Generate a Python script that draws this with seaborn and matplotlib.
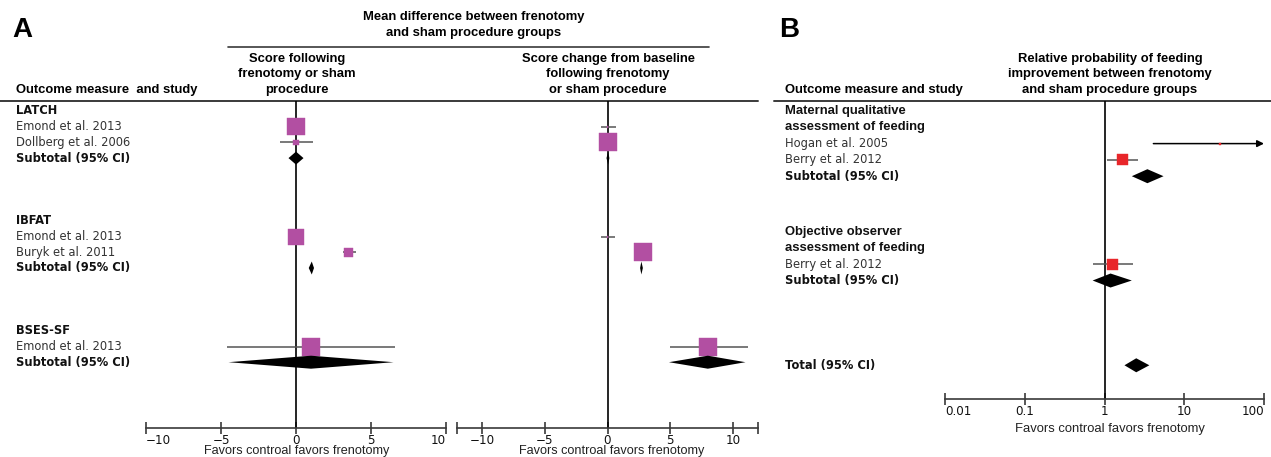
import matplotlib
matplotlib.use("Agg")
import matplotlib.pyplot as plt
import seaborn as sns
import pandas as pd

# ---------------- data ----------------
# Panel A: mean differences (frenotomy vs sham)
a_groups = ["LATCH", "IBFAT", "BSES-SF"]
a_studies = ["Emond et al. 2013", "Dollberg et al. 2006",
             "Emond et al. 2013", "Buryk et al. 2011",
             "Emond et al. 2013"]
a_study_group = [0, 0, 1, 1, 2]

# score following frenotomy or sham procedure
score_md = [0.0, 0.0, 0.0, 3.5, 1.0]
score_lo = [-0.6, -1.1, -0.2, 3.1, -4.6]
score_hi = [0.5, 1.1, 0.2, 4.0, 6.6]
score_weight = [90, 10, 78, 22, 100]
score_sub_md = [0.0, 1.05, 1.0]
score_sub_lo = [-0.5, 0.85, -4.5]
score_sub_hi = [0.5, 1.2, 6.5]

# score change from baseline
change_md = [0.0, 0.05, 0.0, 2.8, 8.0]
change_lo = [-0.55, -0.3, -0.5, 2.5, 5.0]
change_hi = [0.65, 0.4, 0.6, 3.1, 11.2]
change_weight = [1, 99, 1, 99, 100]
change_sub_md = [0.05, 2.7, 8.0]
change_sub_lo = [-0.08, 2.6, 4.9]
change_sub_hi = [0.15, 2.82, 11.0]

a_ticks = [-10, -5, 0, 5, 10]
a_ticklabels = ["\u221210", "\u22125", "0", "5", "10"]

# Panel B: relative probability of feeding improvement
b_groups = [["Maternal qualitative", "assessment of feeding"],
            ["Objective observer", "assessment of feeding"]]
b_studies = ["Hogan et al. 2005", "Berry et al. 2012", "Berry et al. 2012"]
b_study_group = [0, 0, 1]
rr = [28.0, 1.68, 1.26]
rr_lo = [4.1, 1.09, 0.71]
rr_hi = [180.0, 2.6, 2.3]
rr_weight = [3, 97, 100]
rr_sub = [3.45, 1.19]
rr_sub_lo = [2.2, 0.71]
rr_sub_hi = [5.5, 2.2]
rr_total = 2.5
rr_total_lo = 1.78
rr_total_hi = 3.65

b_ticks = [0.01, 0.1, 1, 10, 100]
b_ticklabels = ["0.01", "0.1", "1", "10", "100"]

# ---------------- layout (pixels) ----------------
W, H = 1271, 457
MAGENTA = "#B24FA2"
RED = "#E8262A"
LINE = "#3a3a3a"
CI = "#555555"

sns.set_theme(style="white")
plt.rcParams["font.family"] = ["DejaVu Sans"]
plt.rcParams["text.color"] = "black"
HEAD = "Liberation Sans"
HFS = 9.4

fig = plt.figure(figsize=(W / 100, H / 100), dpi=100)
bg = fig.add_axes([0, 0, 1, 1])
bg.set_xlim(0, W)
bg.set_ylim(H, 0)
bg.axis("off")


def px_axes(x0, x1, y0, y1):
    ax = fig.add_axes([x0 / W, 1 - y1 / H, (x1 - x0) / W, (y1 - y0) / H])
    ax.set_facecolor("none")
    ax.set_ylim(y1, y0)
    for s in ["top", "left", "right"]:
        ax.spines[s].set_visible(False)
    ax.spines["bottom"].set_color(LINE)
    ax.spines["bottom"].set_linewidth(1.2)
    ax.set_yticks([])
    return ax


def style_ticks(ax, inward_ends):
    ax.minorticks_off()
    ax.tick_params(axis="x", bottom=True, direction="inout", length=9,
                   width=1.2, color=LINE, pad=0, labelsize=8.6,
                   labelcolor="#111")
    labels = ax.get_xticklabels()
    if inward_ends:
        labels[0].set_horizontalalignment("left")
        labels[-1].set_horizontalalignment("right")


def forest(ax, est, lo, hi, ys, sides, color, xmax=None):
    for e, l, h, y in zip(est, lo, hi, ys):
        if xmax is not None and h > xmax:
            ax.annotate("", xy=(xmax, y), xytext=(l, y),
                        arrowprops=dict(arrowstyle="-|>", color="black",
                                        lw=1.1, mutation_scale=10,
                                        shrinkA=0, shrinkB=0),
                        annotation_clip=False)
        else:
            ax.hlines(y, l, h, color=CI, lw=1.1, zorder=2)
    df = pd.DataFrame({"x": est, "y": ys,
                       "s": [(sd * 0.72) ** 2 for sd in sides]})
    sns.scatterplot(data=df, x="x", y="y", s=df["s"].tolist(), marker="s",
                    color=color, edgecolor=color, linewidth=0.3,
                    ax=ax, zorder=3, legend=False)
    ax.set_xlabel("")
    ax.set_ylabel("")


def diamond(ax, est, lo, hi, y, h):
    ax.fill([lo, est, hi, est], [y, y - h / 2, y, y + h / 2],
            color="black", lw=0, zorder=4)


# ---------------- panel A ----------------
row_h = 15.7
y_first = 111
a_start = [7 * g for g in range(len(a_groups))]
a_study_rows = []
counts = [0] * len(a_groups)
for g in a_study_group:
    counts[g] += 1
    a_study_rows.append(a_start[g] + counts[g])
a_sub_rows = [a_start[g] + counts[g] + 1 for g in range(len(a_groups))]

def ya(r):
    return y_first + row_h * r

for g, name in enumerate(a_groups):
    bg.text(16, ya(a_start[g]), name, fontsize=8.3, fontweight="bold",
            va="center", ha="left", color="#111")
    bg.text(16, ya(a_sub_rows[g]), "Subtotal (95% CI)", fontsize=8.3,
            fontweight="bold", va="center", ha="left", color="#111")
for name, r in zip(a_studies, a_study_rows):
    bg.text(16, ya(r), name, fontsize=8.3, va="center", ha="left",
            color="#333")

side_a = [1.8 * w ** 0.5 for w in score_weight]
side_c = [1.8 * w ** 0.5 for w in change_weight]
ys_a = [ya(r) for r in a_study_rows]
ys_sub = [ya(r) for r in a_sub_rows]

ax1 = px_axes(146, 446, 101, 428)
ax1.set_xlim(-10, 10)
ax1.set_xticks(a_ticks)
ax1.set_xticklabels(a_ticklabels)
style_ticks(ax1, inward_ends=True)
ax1.axvline(0, color="black", lw=1.2, zorder=1)
forest(ax1, score_md, score_lo, score_hi, ys_a, side_a, MAGENTA)
for e, l, h, y in zip(score_sub_md, score_sub_lo, score_sub_hi, ys_sub):
    diamond(ax1, e, l, h, y, 13)

ax2 = px_axes(457, 758, 101, 428)
ax2.set_xlim(-12, 12)
ax2.set_xticks([-12] + a_ticks + [12])
ax2.set_xticklabels([""] + a_ticklabels + [""])
style_ticks(ax2, inward_ends=False)
ax2.axvline(0, color="black", lw=1.2, zorder=1)
forest(ax2, change_md, change_lo, change_hi, ys_a, side_c, MAGENTA)
for e, l, h, y in zip(change_sub_md, change_sub_lo, change_sub_hi, ys_sub):
    diamond(ax2, e, l, h, y, 13)

for cx in [297, 612]:
    bg.text(cx, 457, "Favors controal favors frenotomy", family=HEAD,
            fontsize=9.1, ha="center", va="bottom", color="#222")

# headers A
bg.text(12, 30, "A", family=HEAD, fontsize=20, fontweight="bold",
        va="center", ha="left")
bg.text(474, 17, "Mean difference between frenotomy", family=HEAD,
        fontsize=HFS, fontweight="bold", ha="center", va="center")
bg.text(474, 33, "and sham procedure groups", family=HEAD,
        fontsize=HFS, fontweight="bold", ha="center", va="center")
bg.plot([228, 709], [47, 47], color=LINE, lw=1.2)
for i, t in enumerate(["Score following", "frenotomy or sham", "procedure"]):
    bg.text(297, 59 + 15.5 * i, t, family=HEAD, fontsize=HFS,
            fontweight="bold", ha="center", va="center")
for i, t in enumerate(["Score change from baseline", "following frenotomy",
                       "or sham procedure"]):
    bg.text(608, 59 + 15.5 * i, t, family=HEAD, fontsize=HFS,
            fontweight="bold", ha="center", va="center")
bg.text(16, 90, "Outcome measure  and study", family=HEAD, fontsize=HFS,
        fontweight="bold", ha="left", va="center")
bg.plot([0, 758], [101, 101], color=LINE, lw=1.4)

# ---------------- panel B ----------------
b_row_h = 16.3
b_start = [0, 7.4]
total_row = 15.6

def yb(r):
    return y_first + b_row_h * r

b_study_rows = []
bcounts = [0] * len(b_groups)
for g in b_study_group:
    b_study_rows.append(b_start[g] + 2 + bcounts[g])
    bcounts[g] += 1
b_sub_rows = [b_start[g] + 2 + bcounts[g] for g in range(len(b_groups))]

for g, lines in enumerate(b_groups):
    for i, t in enumerate(lines):
        bg.text(785, yb(b_start[g] + i), t, family=HEAD, fontsize=HFS,
                fontweight="bold", va="center", ha="left", color="#111")
    bg.text(785, yb(b_sub_rows[g]), "Subtotal (95% CI)", fontsize=8.3,
            fontweight="bold", va="center", ha="left", color="#111")
for name, r in zip(b_studies, b_study_rows):
    bg.text(785, yb(r), name, fontsize=8.3, va="center", ha="left",
            color="#333")
bg.text(785, yb(total_row), "Total (95% CI)", fontsize=8.3,
        fontweight="bold", va="center", ha="left", color="#111")

ax3 = px_axes(945, 1264, 101, 399)
ax3.set_xscale("log")
ax3.set_xlim(0.01, 100)
ax3.set_xticks(b_ticks)
ax3.set_xticklabels(b_ticklabels)
style_ticks(ax3, inward_ends=True)
ax3.axvline(1, color="black", lw=1.2, zorder=1)
side_b = [1.1 * w ** 0.5 for w in rr_weight]
forest(ax3, rr, rr_lo, rr_hi, [yb(r) for r in b_study_rows], side_b, RED,
       xmax=100)
for e, l, h, r in zip(rr_sub, rr_sub_lo, rr_sub_hi, b_sub_rows):
    diamond(ax3, e, l, h, yb(r), 14)
diamond(ax3, rr_total, rr_total_lo, rr_total_hi, yb(total_row), 14)
bg.text(1110, 429, "Favors controal favors frenotomy", family=HEAD,
        fontsize=HFS, ha="center", va="center", color="#222")

bg.text(779, 30, "B", family=HEAD, fontsize=20, fontweight="bold",
        va="center", ha="left")
for i, t in enumerate(["Relative probability of feeding",
                       "improvement between frenotomy",
                       "and sham procedure groups"]):
    bg.text(1110, 59 + 15.5 * i, t, family=HEAD, fontsize=HFS,
            fontweight="bold", ha="center", va="center")
bg.text(785, 90, "Outcome measure and study", family=HEAD, fontsize=HFS,
        fontweight="bold", ha="left", va="center")
bg.plot([774, 1271], [101, 101], color=LINE, lw=1.4)

fig.savefig("out.png", dpi=100, facecolor="white")
